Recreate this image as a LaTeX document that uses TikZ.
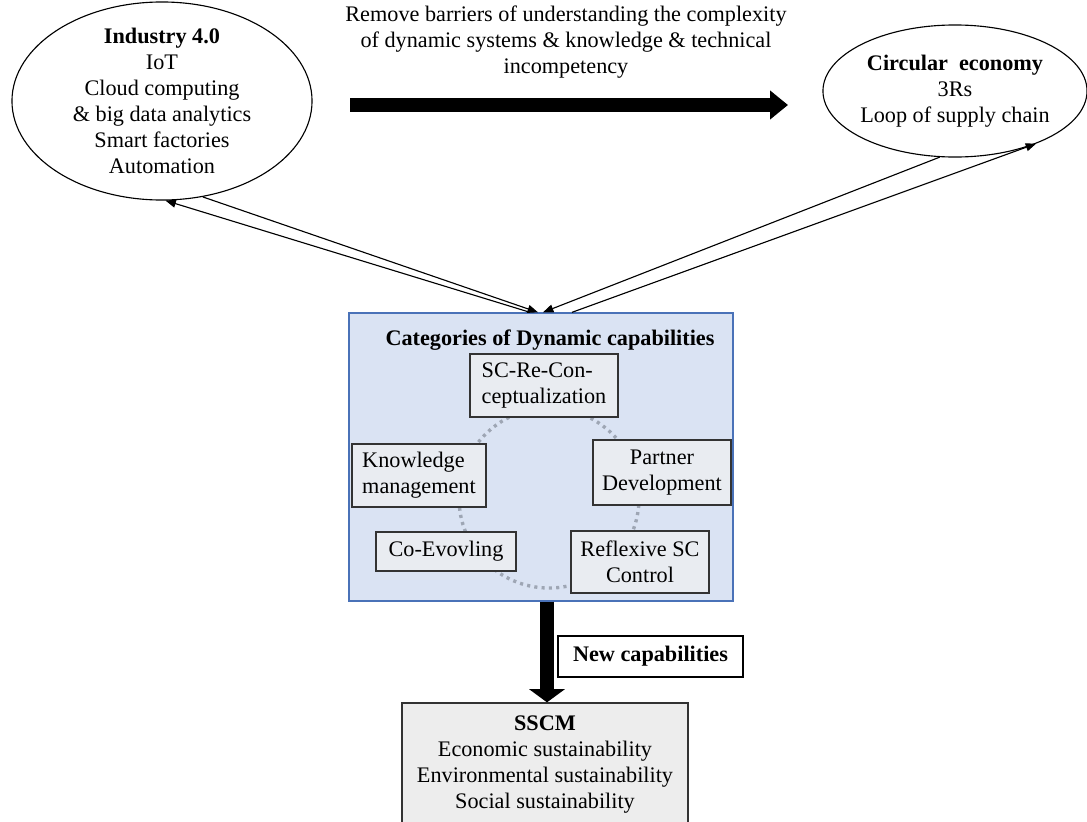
\documentclass[tikz,border=0pt]{standalone}
\usepackage{fontspec}
\setmainfont{Liberation Serif}
\usepackage{tikz}
\usetikzlibrary{shapes.geometric,arrows.meta,calc}
\definecolor{dcblue}{HTML}{DAE3F3}
\definecolor{dcedge}{HTML}{4A72B8}
\definecolor{capfill}{HTML}{E9ECF1}
\definecolor{sscmgray}{HTML}{EDEDED}
\definecolor{ringgray}{HTML}{9EA6B4}

\begin{document}
\begin{tikzpicture}[x=0.025cm, y=-0.025cm,
  every node/.style={font=\fontsize{15.8}{18.5}\selectfont, align=center},
  oval/.style={ellipse, draw, line width=0.8pt, inner sep=0pt},
  capbox/.style={draw=black!80, fill=capfill, line width=0.9pt, inner sep=2pt},
  link/.style={draw, line width=0.8pt, -{Triangle[length=2.6mm,width=2mm]}},
  fat/.style={line width=0.35cm}]
\useasboundingbox (0,0) rectangle (1087,822);
% drivers
\node[oval, minimum width=7.5cm, minimum height=4.95cm] (ind) at (162,101) {};
\node (indtxt) at (ind) {\textbf{Industry 4.0}\\IoT\\Cloud computing\\\& big data analytics\\Smart factories\\Automation};
\node[oval, minimum width=6.6cm, minimum height=3.3cm] (circ) at (955,91) {};
\node (circtxt) at (circ) {\textbf{Circular\ \ economy}\\3Rs\\Loop of supply chain};
\node (rmb) at (566,42) {Remove barriers of understanding the complexity\\of dynamic systems \& knowledge \& technical\\incompetency};
\coordinate (bs) at (350,105);
\coordinate (be) at (788,105);
\draw[fat, -{Triangle[length=0.45cm,width=0.7cm]}] (bs) -- (be);
% dynamic capabilities
\node[draw=dcedge, fill=dcblue, line width=0.9pt, minimum width=9.6cm, minimum height=7.2cm] (dc) at (541,457) {};
\node (dctitle) at (550,340) {\textbf{Categories of Dynamic capabilities}};
\coordinate (ring) at (549,498);
\draw[ringgray, line width=2.4pt, dash pattern=on 2.2pt off 3pt] (ring) circle[radius=2.25cm];
\node[capbox, align=left, minimum width=3.7cm, minimum height=1.575cm] (scr) at (544,385.5) {SC-Re-Con-\\ceptualization};
\node[capbox, align=left, minimum width=3.35cm, minimum height=1.575cm] (km) at (419,475.5) {Knowledge\\management};
\node[capbox, minimum width=3.45cm, minimum height=1.625cm] (pd) at (662,472.5) {Partner\\Development};
\node[capbox, minimum width=3.5cm, minimum height=0.975cm] (coe) at (446,551.5) {Co-Evovling};
\node[capbox, minimum width=3.45cm, minimum height=1.55cm] (rsc) at (640,562) {Reflexive SC\\Control};
% links
\draw[link] (ind.-67) -- ($(dc.north)+(-3,0)$);
\draw[link] ($(dc.north)+(-11,0)$) -- (ind.-88);
\draw[link] (circ.-103) -- ($(dc.north)+(2,0)$);
\draw[link] ($(dc.north)+(31,0)$) -- (circ.-33);
% outcome
\node[draw=black!80, fill=sscmgray, line width=0.9pt, minimum width=7.15cm, minimum height=3.1cm] (sscm) at (545,765) {\textbf{SSCM}\\Economic sustainability\\Environmental sustainability\\Social sustainability};
\node[draw, fill=white, line width=0.9pt, minimum width=4.625cm, minimum height=1.025cm] (newcap) at (650.5,656.5) {\textbf{New capabilities}};
\draw[fat, -{Triangle[length=0.33cm,width=0.88cm]}] ($(sscm.north |- dc.south)+(2,0)$) -- ($(sscm.north)+(2,0)$);
\end{tikzpicture}
\end{document}
